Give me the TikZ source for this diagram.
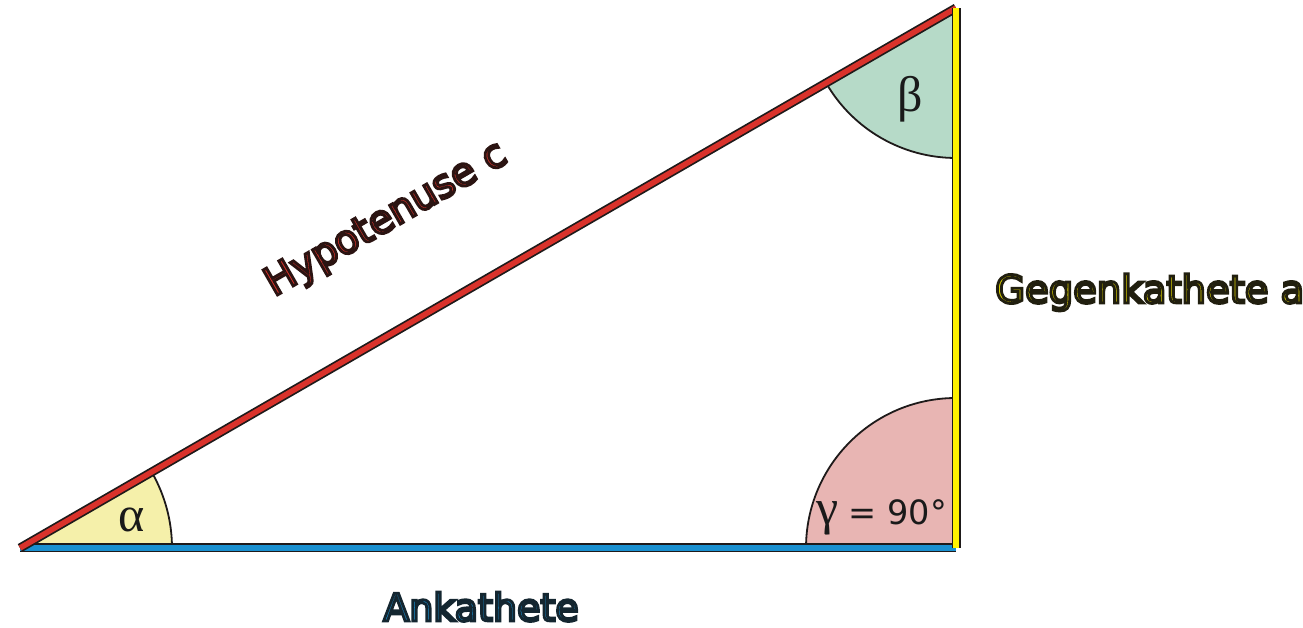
\documentclass[tikz,border=0pt]{standalone}
\usepackage{fontspec}
\newfontfamily\dv{DejaVu Sans}
\newfontfamily\lsr{Liberation Serif}
\definecolor{redline}{HTML}{D9322B}
\definecolor{yelline}{HTML}{FFF200}
\definecolor{bluline}{HTML}{1A90D0}
\definecolor{edge}{HTML}{1E1A1A}
\definecolor{afill}{HTML}{F5F0AA}
\definecolor{bfill}{HTML}{B6DAC8}
\definecolor{gfill}{HTML}{E8B5B3}
\definecolor{txt}{HTML}{1A1A1A}
\newcommand\outl[3]{{\color{#1}\special{pdf:literal direct 2 Tr 2.8 w #2 RG}#3\special{pdf:literal direct 0 Tr}}}
\begin{document}
\begin{tikzpicture}[x=1pt,y=1pt,
  edgeout/.style={line width=9pt,edge},
  edgein/.style={line width=5.5pt},
  arcline/.style={line width=1.8pt,edge},
  lab/.style={inner sep=0pt,font=\dv\fontsize{38.5}{42}\selectfont},
  greek/.style={inner sep=0pt,font=\lsr\fontsize{50}{54}\selectfont,text=txt}]
\useasboundingbox (0,0) rectangle (1303,628);
\coordinate (A) at (20,80);
\coordinate (C) at (956,80);
\coordinate (B) at (956,620);
% angle sectors
\fill[afill] (A) -- ++(0:152) arc[start angle=0,end angle=29.98,radius=152] -- cycle;
\fill[gfill] (C) -- ++(90:150) arc[start angle=90,end angle=180,radius=150] -- cycle;
\fill[bfill] (B) -- ++(210:150) arc[start angle=210,end angle=270,radius=150] -- cycle;
\draw[arcline] (A) ++(0:152) arc[start angle=0,end angle=29.98,radius=152];
\draw[arcline] (C) ++(90:150) arc[start angle=90,end angle=180,radius=150];
\draw[arcline] (B) ++(210:150) arc[start angle=210,end angle=270,radius=150];
% sides
\draw[edgeout] (A) -- (C);
\draw[edgein,bluline] (A) -- (C);
\draw[edgeout] (A) -- (B);
\draw[edgein,redline] (A) -- (B);
\draw[edgeout] (C) -- (B);
\draw[edgein,yelline] (C) -- (B);
% labels
\node[greek,anchor=base] (la) at (132,96) {α};
\node[greek,anchor=base] (lb) at (910,516) {β};
\node[inner sep=0pt,anchor=base west,text=txt] (lg) at (816,103)
  {{\lsr\fontsize{50}{54}\selectfont γ}{\dv\fontsize{33.5}{36}\selectfont\ = 90°}};
\node[lab,anchor=base west,rotate=29.98,font=\dv\fontsize{39.5}{42}\selectfont] (lc) at (274,331)
  {\outl{redline}{0.17 0.08 0.07}{Hypotenuse c}};
\node[lab,anchor=base west] (la2) at (995,325)
  {\outl{yelline!85!black}{0.13 0.12 0.06}{Gegenkathete a}};
\node[lab,anchor=base,font=\dv\fontsize{38}{42}\selectfont] (lb2) at (481,7)
  {\outl{bluline}{0.08 0.15 0.19}{Ankathete}};
\end{tikzpicture}
\end{document}
